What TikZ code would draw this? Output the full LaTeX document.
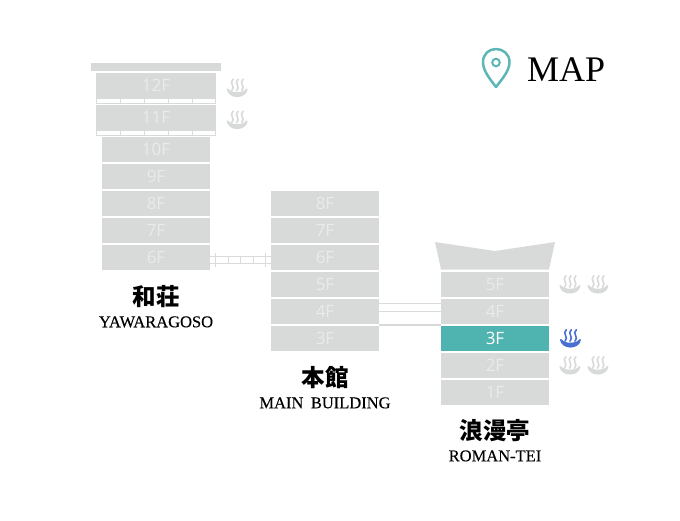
\documentclass[tikz,border=0pt]{standalone}
\usepackage{fontspec}
\setmainfont[WordSpace=1.8]{Liberation Serif}
\setsansfont{Open Sans}
\newfontfamily\cjk{Noto Sans CJK JP}
\newfontfamily\nameserif[WordSpace=1.8,FakeBold=0.25]{Liberation Serif}
\usepackage{tikz}
\usetikzlibrary{matrix,positioning}

\definecolor{floorgray}{HTML}{D8DADA}
\definecolor{floortext}{HTML}{E9EBEB}
\definecolor{floorteal}{HTML}{4FB3AF}
\definecolor{pinteal}{HTML}{5DB6B6}
\definecolor{onsenblue}{HTML}{4A6FD2}
\definecolor{linkgray}{HTML}{DADCDC}

\tikzset{
  floor/.style={fill=floorgray, text=floortext, font=\sffamily\fontsize{17}{17}\selectfont,
    minimum width=108.5pt, minimum height=25pt, inner sep=0pt},
  floorwide/.style={floor, minimum width=120pt},
  floorhot/.style={floor, fill=floorteal, text=white},
  tower/.style={matrix of nodes, row sep=2pt, inner sep=0pt, nodes={floor}},
  balcony/.style={draw=floorgray, line width=0.8pt, fill=white, minimum width=119.5pt,
    minimum height=5pt, inner sep=0pt},
  rail/.style={linkgray, line width=0.8pt},
  namejp/.style={font=\cjk\bfseries\fontsize{23.5}{23.5}\selectfont, inner sep=0pt},
  nameen/.style={font=\nameserif\fontsize{16.5}{16.5}\selectfont, inner sep=0pt},
  onsen/.pic={
    \foreach \s in {-5,0,5}
      \draw[line width=1.6pt, line cap=round] (\s+1,-9) .. controls (\s-4,-5.5) and (\s+4,-1.5) .. (\s-0.5,2.5);
    \fill (-10.5,1) .. controls (-9,11.5) and (9,11.5) .. (10.5,1)
      .. controls (10.5,0) and (9,0) .. (8.5,1) .. controls (6,5) and (-6,5) .. (-8.5,1)
      .. controls (-9,0) and (-10.5,0) .. (-10.5,1) -- cycle;
  },
  onsenoff/.style={color=floorgray},
  onsenon/.style={color=onsenblue}
}

\begin{document}
\begin{tikzpicture}[x=1pt,y=-1pt]
  \useasboundingbox (0,0) rectangle (680,520);

  % Yawaragoso
  \matrix (w) [tower, anchor=north] at (156,73)
  {
    |[floorwide]| 12F \\[5pt]
    |[floorwide]| 11F \\[5pt]
    10F \\
    9F \\
    8F \\
    7F \\
    6F \\
  };
  \node [fill=floorgray, minimum width=130pt, minimum height=8pt, inner sep=0pt, above=2pt of w-1-1] (wroof) {};
  \node [balcony, below=0pt of w-1-1] (wbal1) {};
  \node [balcony, below=0pt of w-2-1] (wbal2) {};
  \foreach \b in {wbal1,wbal2}
    \foreach \x in {-36,-12,12,36}
      \draw [rail] ([xshift=\x pt]\b.north) -- ([xshift=\x pt]\b.south);
  \node [namejp, below=15pt of w] (wjp) {和荘};
  \node [nameen, below=8pt of wjp] (wen) {YAWARAGOSO};

  % Main building
  \matrix (m) [tower, anchor=north] at (325,191)
  {
    8F \\
    7F \\
    6F \\
    5F \\
    4F \\
    3F \\
  };
  \node [namejp, below=15pt of m] (mjp) {本館};
  \node [nameen, below=8pt of mjp] (men) {MAIN BUILDING};

  % Roman-tei
  \matrix (r) [tower, anchor=north] at (495,272)
  {
    5F \\
    4F \\
    |[floorhot]| 3F \\
    2F \\
    1F \\
  };
  \fill [floorgray] (435,242) -- (495,251) -- (555,242) -- (549,269.5) -- (441,269.5) -- cycle;
  \node [namejp, below=14pt of r] (rjp) {浪漫亭};
  \node [nameen, below=8pt of rjp] (ren) {ROMAN-TEI};

  % bridges
  \draw [rail] ([yshift=1pt]w-7-1.east) -- ([yshift=1pt]m-3-1.west);
  \draw [rail] ([yshift=-6pt]w-7-1.east) -- ([yshift=-6pt]m-3-1.west);
  \foreach \x/\t in {5/7, 17.5/3.5, 30/3.5, 42.5/3.5, 55/7}
    \draw [rail] ([xshift=\x pt, yshift=-2.5pt+\t pt]w-7-1.east) -- ([xshift=\x pt, yshift=-2.5pt-\t pt]w-7-1.east);
  \draw [rail] ([yshift=8.5pt]m-5-1.east) -- ([yshift=8.5pt]r-2-1.west);
  \draw [rail] ([yshift=0.5pt]m-5-1.east) -- ([yshift=0.5pt]r-2-1.west);
  \draw [floorgray, line width=1.8pt] ([yshift=-13pt]m-5-1.east) -- ([yshift=-13pt]r-2-1.west);

  % baths
  \pic [onsenoff] at ([xshift=21pt,yshift=-2.5pt]w-1-1.east) {onsen};
  \pic [onsenoff] at ([xshift=21pt,yshift=-2.5pt]w-2-1.east) {onsen};
  \pic [onsenoff] at ([xshift=20.5pt]r-1-1.east) {onsen};
  \pic [onsenoff] at ([xshift=48.5pt]r-1-1.east) {onsen};
  \pic [onsenon] at ([xshift=21pt]r-3-1.east) {onsen};
  \pic [onsenoff] at ([xshift=20.5pt]r-4-1.east) {onsen};
  \pic [onsenoff] at ([xshift=48.5pt]r-4-1.east) {onsen};

  % title
  \coordinate (pin) at (496,62.5);
  \draw [pinteal, line width=2.5pt, line join=round]
    (496,87) .. controls (490,79) and (483,71) .. (483,62)
    .. controls (483,54) and (489,49) .. (496,49)
    .. controls (503,49) and (509.5,54) .. (509.5,62)
    .. controls (509.5,71) and (502,79) .. (496,87) -- cycle;
  \draw [pinteal, line width=2pt] (pin) circle (3.8);
  \node [font=\fontsize{36}{36}\selectfont, inner sep=0pt, anchor=west] (maptitle) at (527,69.5) {MAP};
\end{tikzpicture}
\end{document}
